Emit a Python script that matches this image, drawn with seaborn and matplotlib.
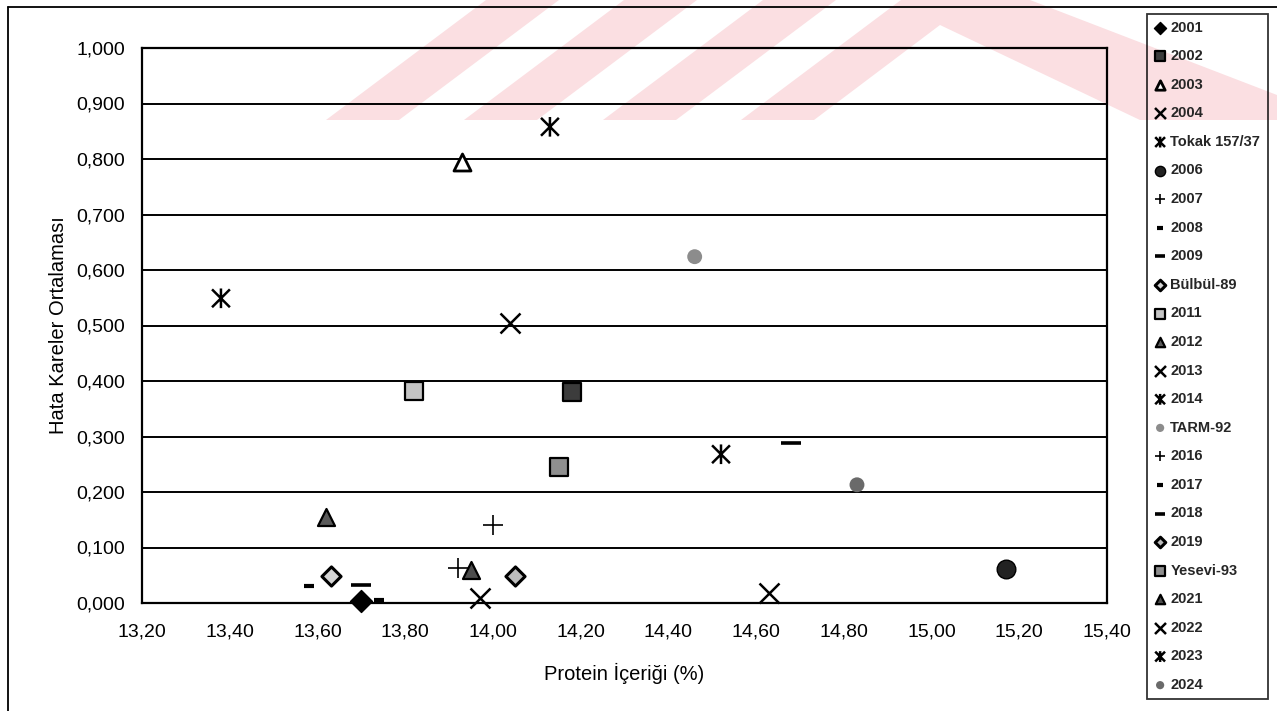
import numpy as np
import pandas as pd
import matplotlib
matplotlib.use("Agg")
import matplotlib.pyplot as plt
from matplotlib.path import Path
from matplotlib.patches import Polygon
from matplotlib.lines import Line2D
from matplotlib.ticker import FuncFormatter
import seaborn as sns

# Genotype names, protein content (%) and error mean square
genotypes = ["2001", "2002", "2003", "2004", "Tokak 157/37", "2006", "2007", "2008",
             "2009", "Bülbül-89", "2011", "2012", "2013", "2014", "TARM-92", "2016",
             "2017", "2018", "2019", "Yesevi-93", "2021", "2022", "2023", "2024"]
protein = [13.70, 14.18, 13.93, 14.04, 14.13, 15.17, 14.00, 13.58,
           13.70, 13.63, 13.82, 13.62, 13.97, 13.38, 14.46, 13.92,
           13.74, 14.68, 14.05, 14.15, 13.95, 14.63, 14.52, 14.83]
hko = [0.003, 0.381, 0.795, 0.504, 0.858, 0.061, 0.140, 0.030,
       0.032, 0.049, 0.382, 0.155, 0.009, 0.549, 0.624, 0.063,
       0.006, 0.289, 0.049, 0.245, 0.060, 0.018, 0.268, 0.213]

x_ticks = [13.20, 13.40, 13.60, 13.80, 14.00, 14.20, 14.40, 14.60, 14.80, 15.00, 15.20, 15.40]
y_ticks = [0.0, 0.1, 0.2, 0.3, 0.4, 0.5, 0.6, 0.7, 0.8, 0.9, 1.0]

df = pd.DataFrame({"genotip": genotypes, "protein": protein, "hko": hko})

# Excel-style asterisk marker: an X crossed by a vertical bar
STAR = Path([(-1, -1), (1, 1), (-1, 1), (1, -1), (0, -1.1), (0, 1.1)],
            [Path.MOVETO, Path.LINETO, Path.MOVETO, Path.LINETO, Path.MOVETO, Path.LINETO])

# marker, size, face, edge, linewidth (edge None => unfilled marker drawn in face colour)
styles = {
    "2001": ("D", 125, "black", "black", 1.0),
    "2002": ("s", 150, "#3c3c3c", "black", 1.6),
    "2003": ("^", 150, "white", "black", 2.0),
    "2004": ("x", 207, "black", None, 1.8),
    "Tokak 157/37": (STAR, 200, "none", "black", 1.8),
    "2006": ("o", 180, "#222222", "black", 1.0),
    "2007": ("+", 207, "black", None, 1.2),
    "2008": ("_", 52, "black", None, 3.0),
    "2009": ("_", 200, "black", None, 2.6),
    "Bülbül-89": ("D", 95, "#d4d4d4", "black", 2.2),
    "2011": ("s", 150, "#c4c4c4", "black", 1.6),
    "2012": ("^", 150, "#5a5a5a", "black", 1.6),
    "2013": ("x", 207, "black", None, 1.8),
    "2014": (STAR, 200, "none", "black", 1.8),
    "TARM-92": ("o", 115, "#8c8c8c", "none", 0.0),
    "2016": ("+", 207, "black", None, 1.2),
    "2017": ("_", 52, "black", None, 3.0),
    "2018": ("_", 200, "black", None, 2.6),
    "2019": ("D", 95, "#bdbdbd", "black", 2.2),
    "Yesevi-93": ("s", 150, "#8f8f8f", "black", 1.6),
    "2021": ("^", 150, "#4d4d4d", "black", 1.6),
    "2022": ("x", 207, "black", None, 1.8),
    "2023": (STAR, 200, "none", "black", 1.8),
    "2024": ("o", 115, "#6a6a6a", "none", 0.0),
}

sns.set_style("white")
plt.rcParams["font.family"] = ["Liberation Sans", "DejaVu Sans"]

W, H = 1277, 711
fig = plt.figure(figsize=(W / 100, H / 100), dpi=100)
fig.patch.set_facecolor("white")


def fx(px):
    return px / W


def fy(py):
    return 1 - py / H


# pale pink background emblem
pink = "#fbdfe2"
for x0 in (326, 464, 603):
    pts = [(x0, 120), (x0 + 73, 120), (x0 + 73 + 160, 0), (x0 + 160, 0)]
    fig.patches.append(Polygon([(fx(a), fy(b)) for a, b in pts], closed=True,
                               transform=fig.transFigure, facecolor=pink,
                               edgecolor="none", zorder=-5))
chev = [(741, 120), (814, 120), (940, 25), (1140, 120), (1277, 120), (1277, 95),
        (1030, 0), (901, 0)]
fig.patches.append(Polygon([(fx(a), fy(b)) for a, b in chev], closed=True,
                           transform=fig.transFigure, facecolor=pink,
                           edgecolor="none", zorder=-5))

# outer chart border (left and top edges)
fig.lines.append(Line2D([fx(8), fx(8)], [fy(7), 0], transform=fig.transFigure,
                        color="black", lw=1.3))
fig.lines.append(Line2D([fx(8), 1], [fy(7), fy(7)], transform=fig.transFigure,
                        color="black", lw=1.3))

ax = fig.add_axes([fx(142), fy(603), fx(1107) - fx(142), fy(48) - fy(603)])
ax.set_facecolor("none")

for _, row in df.iterrows():
    m, s, face, edge, lw = styles[row["genotip"]]
    kw = dict(marker=m, s=s, linewidth=lw, zorder=4, clip_on=False)
    if edge is None:
        kw["color"] = face
    else:
        kw["facecolor"] = face
        kw["edgecolor"] = edge
    sns.scatterplot(x=[row["protein"]], y=[row["hko"]], ax=ax,
                    label=row["genotip"], legend=False, **kw)

ax.set_xlim(x_ticks[0], x_ticks[-1])
ax.set_ylim(y_ticks[0], y_ticks[-1])
ax.set_xticks(x_ticks)
ax.set_yticks(y_ticks)
ax.xaxis.set_major_formatter(FuncFormatter(lambda v, p: f"{v:.2f}".replace(".", ",")))
ax.yaxis.set_major_formatter(FuncFormatter(lambda v, p: f"{v:.3f}".replace(".", ",")))
ax.tick_params(axis="both", direction="out", length=6, width=1.2, color="black",
               labelsize=14, labelcolor="black", pad=6)
ax.tick_params(axis="x", pad=9)
ax.grid(axis="y", color="black", linewidth=1.4)
ax.grid(axis="x", visible=False)
for sp in ax.spines.values():
    sp.set_visible(True)
    sp.set_color("black")
    sp.set_linewidth(1.6)

ax.set_xlabel("Protein İçeriği (%)", fontsize=14.5, labelpad=16, color="black")
ax.set_ylabel("Hata Kareler Ortalaması", fontsize=14.5, labelpad=6, color="black")

handles, labels = ax.get_legend_handles_labels()
leg = fig.legend(handles, labels, loc="upper left",
                 bbox_to_anchor=(fx(1147), fy(700), fx(1268) - fx(1147), fy(14) - fy(700)),
                 mode="expand", borderaxespad=0, frameon=True, fancybox=False,
                 edgecolor="black", facecolor="none",
                 prop={"family": ["Liberation Sans", "DejaVu Sans"], "weight": "bold", "size": 10.5},
                 markerscale=0.55, handlelength=0.9, handletextpad=0.25,
                 labelspacing=1.0, borderpad=0.45, scatterpoints=1)
leg.get_frame().set_linewidth(1.3)

fig.savefig("out.png", dpi=100, facecolor="white")
